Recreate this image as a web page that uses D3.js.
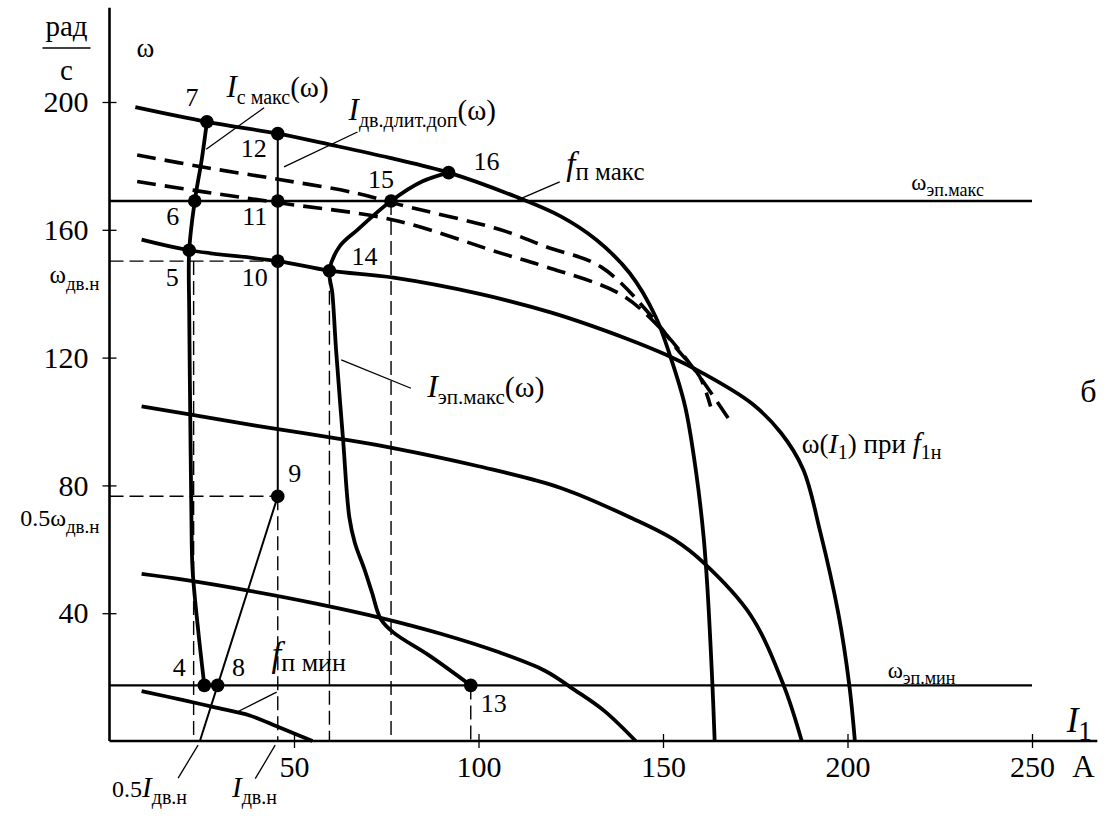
<!DOCTYPE html>
<html>
<head>
<meta charset="utf-8">
<script src="https://cdn.jsdelivr.net/npm/d3@7"></script>
<style>
  body { margin: 0; background: #fff; }
  svg { display: block; }
  svg text { font-family: 'Liberation Serif', 'Times New Roman', 'DejaVu Serif', serif; }
</style>
</head>
<body>
<svg id="chart" width="1120" height="821"></svg>
<script>
// Values: stator current I1 (A) against speed ω (rad/s)
var xTicks = [50, 100, 150, 200, 250];
var yTicks = [40, 80, 120, 160, 200];

var omegaEpMax = 169;      // ω эп.макс
var omegaEpMin = 17.4;     // ω эп.мин
var omegaDvN = 150.2;      // ω дв.н
var halfOmegaDvN = 76.6;   // 0.5 ω дв.н
var iDvN = 45.6;           // I дв.н
var halfIDvN = 22.8;       // 0.5 I дв.н

// mechanical characteristics ω(I1) for several frequencies
var curveFpMax = [[7, 198.4], [26.4, 193.8], [45.6, 190.1], [60.4, 186.5], [76, 182.5], [91.9, 177.9],
  [110, 170.4], [122.3, 164.2], [132, 156.8], [141, 146.4], [148, 132.8], [152, 120.3], [156, 104.7],
  [159, 83.9], [161, 64], [162, 48.6], [163.4, 17.4], [164, 0]];
var curveF1n = [[8.7, 156.9], [21.6, 153.6], [45.6, 150.2], [59.6, 147.2], [77, 145], [100, 140],
  [120, 134], [140, 126], [151, 120.8], [161, 115], [174, 105.7], [182, 96.4], [188, 85], [192.5, 66],
  [197.5, 40], [200.5, 17.4], [202, 0]];
var curveMid = [[8.7, 104.7], [30, 100.6], [45.6, 97.6], [62.3, 94.6], [76.9, 91.7], [100, 86],
  [122.3, 79.2], [142, 69.5], [153, 63], [160.9, 55.9], [173.8, 39.3], [182.7, 17.4], [187.6, 0]];
var curveLow = [[8.7, 52.3], [20, 50.5], [38, 47], [56, 43], [74, 38.4], [90, 33.5], [105, 28],
  [118, 22], [126, 16], [134, 9.5], [142.6, 0]];
var curveFpMin = [[8.7, 15.6], [20, 12.8], [28.3, 10.6], [38, 8], [45.3, 4.6], [50.7, 2], [55, 0]];

// dashed characteristics
var dashUpper = [[7.5, 183.4], [26, 179.5], [46.8, 175.6], [67.2, 171.4], [78.8, 167.8], [106, 160],
  [118.3, 154.7], [133.2, 148.4], [147, 132.8], [154, 122.4], [159.9, 114.1], [162.9, 104.7]];
var dashLower = [[7.5, 175.1], [26, 171.8], [46.8, 168.3], [76.9, 163.1], [106, 152.7], [118.3, 148.4],
  [138.1, 140.1], [148, 130.7], [157.9, 117.2], [168.3, 100]];

// limit curves
var curveIcMax = [[26.4, 193.8], [25, 182], [23.1, 169], [21.6, 153.6], [21.6, 134.5], [21.9, 100],
  [22.2, 70], [22.5, 53.9], [24, 35], [25.7, 17.4]];
var curveIepMax = [[91.9, 177.9], [84.7, 175.1], [76.3, 169], [67.2, 160], [62.3, 154.7], [59.6, 147.2],
  [60.4, 140.1], [61.4, 122.4], [63.3, 94.3], [65, 70], [66.5, 62], [69, 54], [71.1, 46.6], [73.5, 38.2],
  [76.9, 34], [86.6, 26.8], [97.9, 17.4]];
var lineIdvDop = [[45.6, 190.1], [45.6, 76.6], [29.3, 17.4], [24.5, 0]];

// numbered points
var pointNames = ["4", "8", "13", "9", "5", "10", "14", "6", "11", "15", "7", "12", "16"];
var pointI = [25.7, 29.3, 97.9, 45.6, 21.6, 45.6, 59.6, 23.1, 45.6, 76.3, 26.4, 45.6, 91.9];
var pointW = [17.4, 17.4, 17.4, 76.6, 153.6, 150.2, 147.2, 169, 169, 169, 193.8, 190.1, 177.9];

// label offsets of the point numbers (px)
var pointLabelOffset = {
  "4": [-25, -9], "8": [21, -9], "13": [23, 27], "9": [17, -14], "5": [-17, 36], "10": [-23, 25],
  "14": [35, -6], "6": [-22, 24], "11": [-23, 24], "15": [-10, -13], "7": [-15, -16], "12": [-24, 23],
  "16": [38, -3]
};

var svg = d3.select("#chart");

var x = d3.scaleLinear().domain([0, 250]).range([109.5, 1032]);
var y = d3.scaleLinear().domain([0, 200]).range([741, 102]);

var line = d3.line()
  .x(function (d) { return x(d[0]); })
  .y(function (d) { return y(d[1]); })
  .curve(d3.curveCatmullRom.alpha(0.5));

var straight = d3.line()
  .x(function (d) { return x(d[0]); })
  .y(function (d) { return y(d[1]); });

// helper for text with subscripts
function rich(g, px, py, parts, anchor) {
  var t = g.append("text")
    .attr("x", px).attr("y", py)
    .attr("text-anchor", anchor || "start")
    .attr("fill", "#000");
  var shift = 0;
  parts.forEach(function (p) {
    var target = p.sub || 0;
    t.append("tspan")
      .attr("dy", target - shift)
      .attr("font-size", p.s)
      .attr("font-style", p.i ? "italic" : "normal")
      .text(p.t);
    shift = target;
  });
  return t;
}

// Axes
var axisX = svg.append("g")
  .attr("transform", "translate(0," + y(0) + ")")
  .call(d3.axisBottom(x).tickValues(xTicks).tickSize(7).tickSizeOuter(0));
axisX.select(".domain").remove();
axisX.selectAll(".tick line").attr("y1", -7).attr("y2", 7).attr("stroke-width", 1.3);
axisX.selectAll(".tick text")
  .attr("y", 36).attr("dy", 0)
  .attr("font-size", 30);

var axisY = svg.append("g")
  .attr("transform", "translate(" + x(0) + ",0)")
  .call(d3.axisLeft(y).tickValues(yTicks).tickSize(7).tickPadding(14).tickSizeOuter(0));
axisY.select(".domain").remove();
axisY.selectAll(".tick line").attr("x1", -7).attr("x2", 7).attr("stroke-width", 1.3);
axisY.selectAll(".tick text")
  .attr("font-size", 30);

svg.append("path")
  .attr("d", straight([[0, 0], [267.7, 0]]))
  .attr("stroke", "#000").attr("stroke-width", 2.6).attr("fill", "none");
svg.append("path")
  .attr("d", straight([[0, 0], [0, 229.5]]))
  .attr("stroke", "#000").attr("stroke-width", 2.6).attr("fill", "none");

// thin dashed helper lines
var dashed = [
  [[0, omegaDvN], [iDvN, omegaDvN]],
  [[0, halfOmegaDvN], [iDvN, halfOmegaDvN]],
  [[halfIDvN, omegaDvN], [halfIDvN, 0]],
  [[iDvN, halfOmegaDvN], [iDvN, 0]],
  [[pointI[6], pointW[6]], [pointI[6], 0]],
  [[pointI[9], pointW[9]], [pointI[9], 0]],
  [[pointI[2], pointW[2]], [pointI[2], 0]]
];
svg.append("g").selectAll("path").data(dashed).enter().append("path")
  .attr("d", straight)
  .attr("stroke", "#000").attr("stroke-width", 1.4)
  .attr("stroke-dasharray", "14,6").attr("fill", "none");

// ω эп limits
svg.append("g").selectAll("path").data([omegaEpMax, omegaEpMin]).enter().append("path")
  .attr("d", function (w) { return straight([[0, w], [250, w]]); })
  .attr("stroke", "#000").attr("stroke-width", 2.4).attr("fill", "none");

// I дв.длит.доп(ω)
svg.append("path")
  .attr("d", straight(lineIdvDop))
  .attr("stroke", "#000").attr("stroke-width", 2).attr("fill", "none");

// characteristics
var solid = [curveFpMax, curveF1n, curveMid, curveLow, curveFpMin, curveIcMax, curveIepMax];
svg.append("g").selectAll("path").data(solid).enter().append("path")
  .attr("d", line)
  .attr("stroke", "#000").attr("stroke-width", 3.8)
  .attr("stroke-linejoin", "round").attr("fill", "none");

svg.append("g").selectAll("path").data([dashUpper, dashLower]).enter().append("path")
  .attr("d", line)
  .attr("stroke", "#000").attr("stroke-width", 3.6)
  .attr("stroke-dasharray", "19,9").attr("fill", "none");

// leader lines
var leaders = [
  [[41.9, 198.2], [26.2, 185.2]],
  [[67.2, 190.6], [47.3, 179.7]],
  [[110.5, 169.3], [122, 175]],
  [[62.8, 119.3], [81.7, 110.4]],
  [[45.3, 15.3], [35, 9.3]],
  [[18.6, -11.6], [24, -1.3]],
  [[39.5, -11.8], [44.9, -1.3]]
];
svg.append("g").selectAll("path").data(leaders).enter().append("path")
  .attr("d", straight)
  .attr("stroke", "#000").attr("stroke-width", 1.3).attr("fill", "none");

// points
var pts = pointNames.map(function (n, i) { return { n: n, i: pointI[i], w: pointW[i] }; });
svg.append("g").selectAll("circle").data(pts).enter().append("circle")
  .attr("cx", function (d) { return x(d.i); })
  .attr("cy", function (d) { return y(d.w); })
  .attr("r", 6.8).attr("fill", "#000");
svg.append("g").selectAll("text").data(pts).enter().append("text")
  .attr("x", function (d) { return x(d.i) + pointLabelOffset[d.n][0]; })
  .attr("y", function (d) { return y(d.w) + pointLabelOffset[d.n][1]; })
  .attr("text-anchor", "middle")
  .attr("font-size", 26)
  .text(function (d) { return d.n; });

// annotations
var ann = svg.append("g");
rich(ann, x(31.7), y(201.6), [{ t: "I", i: 1, s: 31 }, { t: "с макс", s: 20, sub: 7 }, { t: "(ω)", s: 29 }]);
rich(ann, x(64.8), y(194.3), [{ t: "I", i: 1, s: 31 }, { t: "дв.длит.доп", s: 20, sub: 7 }, { t: "(ω)", s: 29 }]);
rich(ann, x(123.8), y(177.1), [{ t: "f", i: 1, s: 33 }, { t: "п макс", s: 25, sub: 5 }]);
rich(ann, x(217.3), y(172.5), [{ t: "ω", s: 23 }, { t: "эп.макс", s: 18, sub: 6 }]);
rich(ann, x(210.9), y(19.7), [{ t: "ω", s: 23 }, { t: "эп.мин", s: 18, sub: 6 }]);
rich(ann, x(86.1), y(107.8), [{ t: "I", i: 1, s: 32 }, { t: "эп.макс", s: 21, sub: 7 }, { t: "(ω)", s: 30 }]);
rich(ann, x(187.6), y(90.1), [{ t: "ω(", s: 27 }, { t: "I", i: 1, s: 28 }, { t: "1", s: 20, sub: 6 },
  { t: ") при ", s: 27 }, { t: "f", i: 1, s: 29 }, { t: "1н", s: 20, sub: 6 }]);
rich(ann, x(265.3), y(106.2), [{ t: "б", s: 32 }], "middle");
rich(ann, x(43.9), y(23.6), [{ t: "f", i: 1, s: 35 }, { t: "п мин", s: 26, sub: 5 }]);
rich(ann, x(0.7), y(-17.5), [{ t: "0.5", s: 24 }, { t: "I", i: 1, s: 29 }, { t: "дв.н", s: 20, sub: 7 }]);
rich(ann, x(33.2), y(-17.5), [{ t: "I", i: 1, s: 29 }, { t: "дв.н", s: 20, sub: 7 }]);
rich(ann, x(259.4), y(2.8), [{ t: "I", i: 1, s: 35 }, { t: "1", s: 27, sub: 8 }]);
rich(ann, x(260.9), y(-11.25), [{ t: "A", s: 31 }]);
rich(ann, x(0) - 10, y(143.2), [{ t: "ω", s: 25 }, { t: "дв.н", s: 19, sub: 7 }], "end");
rich(ann, x(0) - 10, y(67.2), [{ t: "0.5ω", s: 24 }, { t: "дв.н", s: 19, sub: 7 }], "end");
rich(ann, x(0) + 27, y(0) - 684, [{ t: "ω", s: 27 }], "start");

// unit рад/с
rich(ann, x(0) - 43, 36, [{ t: "рад", s: 29 }], "middle");
rich(ann, x(0) - 43, 80, [{ t: "с", s: 29 }], "middle");
ann.append("line")
  .attr("x1", x(0) - 67).attr("x2", x(0) - 19)
  .attr("y1", 48).attr("y2", 48)
  .attr("stroke", "#000").attr("stroke-width", 1.5);

// serif face everywhere, like the printed figure
svg.selectAll("text, g").attr("font-family", "Liberation Serif, Times New Roman, serif");
</script>
</body>
</html>
